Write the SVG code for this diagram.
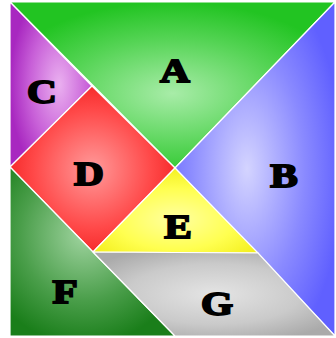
<svg xmlns="http://www.w3.org/2000/svg" width="336" height="338" viewBox="0 0 336 338">
<defs>
<radialGradient id="gA" cx="0.5" cy="0.55" r="0.55"><stop offset="0" stop-color="#a8eca8"/><stop offset="0.6" stop-color="#55d455"/><stop offset="1" stop-color="#22c422"/></radialGradient>
<radialGradient id="gB" cx="0.45" cy="0.5" r="0.6"><stop offset="0" stop-color="#d4d4ff"/><stop offset="0.6" stop-color="#8a8aff"/><stop offset="1" stop-color="#6060ff"/></radialGradient>
<radialGradient id="gC" cx="0.6" cy="0.5" r="0.6"><stop offset="0" stop-color="#eab0f0"/><stop offset="0.6" stop-color="#c860d8"/><stop offset="1" stop-color="#a828c0"/></radialGradient>
<radialGradient id="gD" cx="0.5" cy="0.5" r="0.6"><stop offset="0" stop-color="#ff9a9a"/><stop offset="0.6" stop-color="#ff4848"/><stop offset="1" stop-color="#f01818"/></radialGradient>
<radialGradient id="gE" cx="0.5" cy="0.6" r="0.6"><stop offset="0" stop-color="#ffffa0"/><stop offset="0.6" stop-color="#ffff50"/><stop offset="1" stop-color="#f4f020"/></radialGradient>
<radialGradient id="gF" cx="0.45" cy="0.4" r="0.65"><stop offset="0" stop-color="#a0d4a0"/><stop offset="0.6" stop-color="#4a9e4a"/><stop offset="1" stop-color="#1a7e1a"/></radialGradient>
<radialGradient id="gG" cx="0.5" cy="0.5" r="0.6"><stop offset="0" stop-color="#e4e4e4"/><stop offset="0.6" stop-color="#cacaca"/><stop offset="1" stop-color="#aaaaaa"/></radialGradient>
</defs>
<style>
.p{stroke:#ffffff;stroke-width:1.2;stroke-linejoin:round}
.t{font-family:"Liberation Serif",serif;font-weight:bold;font-size:33px;fill:#000;stroke:#000;stroke-width:1.8;text-anchor:middle}
</style>
<rect width="336" height="338" fill="#ffffff"/>
<g id="A"><polygon class="p" points="10,2 335,2 175,168" fill="url(#gA)"/><text class="t" transform="translate(175 82) scale(1.25 1)">A</text></g>
<g id="B"><polygon class="p" points="335,2 335,336 175,168" fill="url(#gB)"/><text class="t" transform="translate(284 187) scale(1.25 1)">B</text></g>
<g id="C"><polygon class="p" points="10,2 92,86 10,167" fill="url(#gC)"/><text class="t" transform="translate(42 103) scale(1.25 1)">C</text></g>
<g id="D"><polygon class="p" points="92,86 175,168 93,252 10,167" fill="url(#gD)"/><text class="t" transform="translate(89 185) scale(1.25 1)">D</text></g>
<g id="E"><polygon class="p" points="175,168 258,253 93,252" fill="url(#gE)"/><text class="t" transform="translate(178 238) scale(1.25 1)">E</text></g>
<g id="F"><polygon class="p" points="10,167 175,336 10,336" fill="url(#gF)"/><text class="t" transform="translate(65 303) scale(1.25 1)">F</text></g>
<g id="G"><polygon class="p" points="93,252 258,253 335,336 175,336" fill="url(#gG)"/><text class="t" transform="translate(217 315) scale(1.25 1)">G</text></g>
</svg>
